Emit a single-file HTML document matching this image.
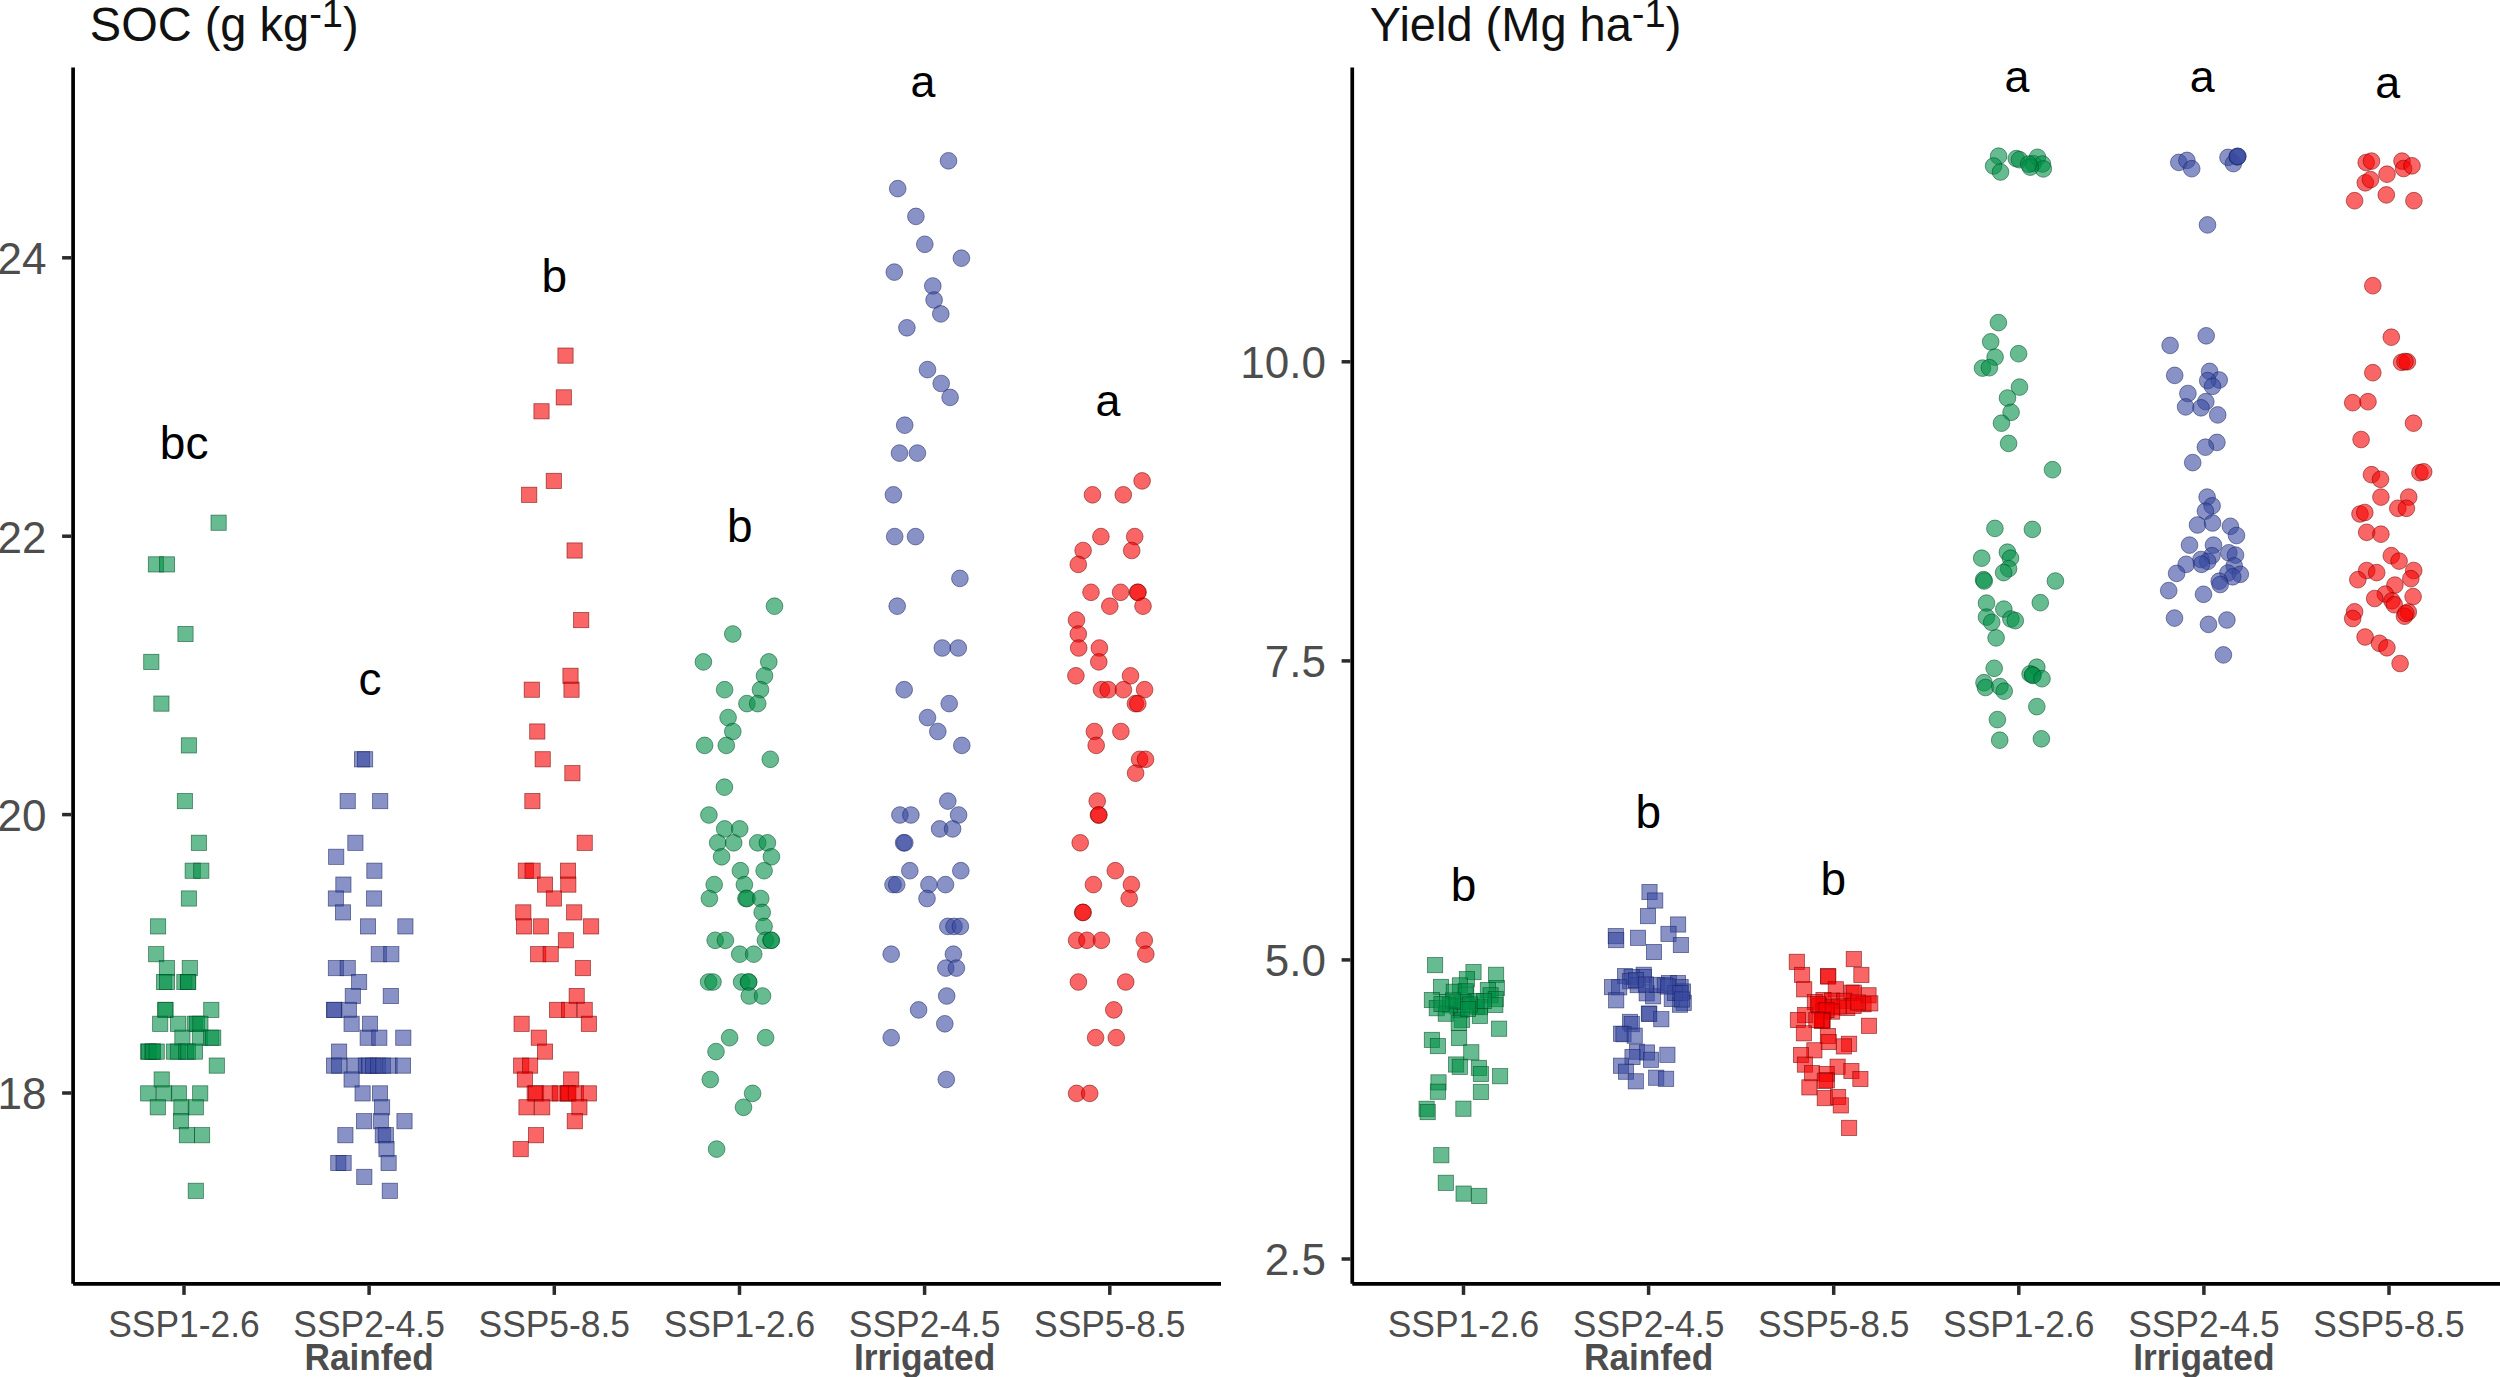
<!DOCTYPE html>
<html lang="en"><head><meta charset="utf-8"><title>SOC and Yield under SSP scenarios</title>
<style>html,body{margin:0;padding:0;background:#fff}body{width:2500px;height:1377px;overflow:hidden}svg{display:block}text{font-family:"Liberation Sans",Arial,sans-serif}.ax{stroke:#000;stroke-width:3.7;fill:none;stroke-linecap:butt}.tk{stroke:#2b2b2b;stroke-width:3.5;fill:none}.tl{fill:#4D4D4D;font-size:35.4px}.yl{fill:#4D4D4D;font-size:44px}.gl{fill:#4D4D4D;font-size:35.3px;font-weight:bold}.tt{fill:#111;font-size:47px}.lb{fill:#000;font-size:46px}.la{font-size:44.8px}.g{fill:#009046;stroke:#004a24}.b{fill:#384AA0;stroke:#1a2460}.r{fill:#F70000;stroke:#720000}.p{fill-opacity:0.6;stroke-opacity:0.65;stroke-width:0.8}</style></head><body>
<svg width="2500" height="1377" viewBox="0 0 2500 1377">
<rect width="2500" height="1377" fill="#fff"/>
<g class="p g"><rect x="211" y="515.1" width="15.2" height="15.2"/><rect x="148.3" y="556.8" width="15.2" height="15.2"/><rect x="159.4" y="556.8" width="15.2" height="15.2"/><rect x="177.9" y="626.4" width="15.2" height="15.2"/><rect x="143.7" y="654.3" width="15.2" height="15.2"/><rect x="153.8" y="696" width="15.2" height="15.2"/><rect x="181.3" y="737.8" width="15.2" height="15.2"/><rect x="177.3" y="793.5" width="15.2" height="15.2"/><rect x="191.3" y="835.2" width="15.2" height="15.2"/><rect x="185.1" y="863.1" width="15.2" height="15.2"/><rect x="193.7" y="863.1" width="15.2" height="15.2"/><rect x="181.3" y="890.9" width="15.2" height="15.2"/><rect x="150.5" y="918.8" width="15.2" height="15.2"/><rect x="148.6" y="946.6" width="15.2" height="15.2"/><rect x="159.3" y="960.5" width="15.2" height="15.2"/><rect x="182.2" y="960.5" width="15.2" height="15.2"/><rect x="156.5" y="974.4" width="15.2" height="15.2"/><rect x="159.4" y="974.4" width="15.2" height="15.2"/><rect x="176.8" y="974.4" width="15.2" height="15.2"/><rect x="180.3" y="974.4" width="15.2" height="15.2"/><rect x="180.6" y="974.4" width="15.2" height="15.2"/><rect x="157.8" y="1002.3" width="15.2" height="15.2"/><rect x="157.8" y="1002.3" width="15.2" height="15.2"/><rect x="203.7" y="1002.3" width="15.2" height="15.2"/><rect x="152.6" y="1016.2" width="15.2" height="15.2"/><rect x="170.5" y="1016.2" width="15.2" height="15.2"/><rect x="187.1" y="1016.2" width="15.2" height="15.2"/><rect x="189.3" y="1016.2" width="15.2" height="15.2"/><rect x="192.8" y="1016.2" width="15.2" height="15.2"/><rect x="174.8" y="1030.1" width="15.2" height="15.2"/><rect x="192.3" y="1030.1" width="15.2" height="15.2"/><rect x="203.6" y="1030.1" width="15.2" height="15.2"/><rect x="205.6" y="1030.1" width="15.2" height="15.2"/><rect x="140.5" y="1044" width="15.2" height="15.2"/><rect x="141.4" y="1044" width="15.2" height="15.2"/><rect x="145.1" y="1044" width="15.2" height="15.2"/><rect x="145.1" y="1044" width="15.2" height="15.2"/><rect x="149.1" y="1044" width="15.2" height="15.2"/><rect x="166.3" y="1044" width="15.2" height="15.2"/><rect x="170.3" y="1044" width="15.2" height="15.2"/><rect x="178.4" y="1044" width="15.2" height="15.2"/><rect x="180.3" y="1044" width="15.2" height="15.2"/><rect x="187.4" y="1044" width="15.2" height="15.2"/><rect x="209.2" y="1058" width="15.2" height="15.2"/><rect x="154.1" y="1071.9" width="15.2" height="15.2"/><rect x="140.6" y="1085.8" width="15.2" height="15.2"/><rect x="156.6" y="1085.8" width="15.2" height="15.2"/><rect x="171.3" y="1085.8" width="15.2" height="15.2"/><rect x="192.6" y="1085.8" width="15.2" height="15.2"/><rect x="150.2" y="1099.7" width="15.2" height="15.2"/><rect x="173.8" y="1099.7" width="15.2" height="15.2"/><rect x="188.2" y="1099.7" width="15.2" height="15.2"/><rect x="173.4" y="1113.6" width="15.2" height="15.2"/><rect x="179.3" y="1127.6" width="15.2" height="15.2"/><rect x="194.5" y="1127.6" width="15.2" height="15.2"/><rect x="188.2" y="1183.2" width="15.2" height="15.2"/></g>
<g class="p b"><rect x="354.4" y="751.7" width="15.2" height="15.2"/><rect x="357.5" y="751.7" width="15.2" height="15.2"/><rect x="340.1" y="793.5" width="15.2" height="15.2"/><rect x="372.6" y="793.5" width="15.2" height="15.2"/><rect x="347.8" y="835.2" width="15.2" height="15.2"/><rect x="328.6" y="849.2" width="15.2" height="15.2"/><rect x="366.8" y="863.1" width="15.2" height="15.2"/><rect x="335.8" y="877" width="15.2" height="15.2"/><rect x="328.3" y="890.9" width="15.2" height="15.2"/><rect x="366.5" y="890.9" width="15.2" height="15.2"/><rect x="335.4" y="904.8" width="15.2" height="15.2"/><rect x="360.4" y="918.8" width="15.2" height="15.2"/><rect x="397.8" y="918.8" width="15.2" height="15.2"/><rect x="371.2" y="946.6" width="15.2" height="15.2"/><rect x="383.7" y="946.6" width="15.2" height="15.2"/><rect x="328.3" y="960.5" width="15.2" height="15.2"/><rect x="340.1" y="960.5" width="15.2" height="15.2"/><rect x="351.5" y="974.4" width="15.2" height="15.2"/><rect x="345.2" y="988.4" width="15.2" height="15.2"/><rect x="383.2" y="988.4" width="15.2" height="15.2"/><rect x="326.4" y="1002.3" width="15.2" height="15.2"/><rect x="326.8" y="1002.3" width="15.2" height="15.2"/><rect x="341.3" y="1002.3" width="15.2" height="15.2"/><rect x="344" y="1016.2" width="15.2" height="15.2"/><rect x="362.4" y="1016.2" width="15.2" height="15.2"/><rect x="360.1" y="1030.1" width="15.2" height="15.2"/><rect x="371.7" y="1030.1" width="15.2" height="15.2"/><rect x="395.7" y="1030.1" width="15.2" height="15.2"/><rect x="331.5" y="1044" width="15.2" height="15.2"/><rect x="326.4" y="1058" width="15.2" height="15.2"/><rect x="331.6" y="1058" width="15.2" height="15.2"/><rect x="347.1" y="1058" width="15.2" height="15.2"/><rect x="358.3" y="1058" width="15.2" height="15.2"/><rect x="361.4" y="1058" width="15.2" height="15.2"/><rect x="365.4" y="1058" width="15.2" height="15.2"/><rect x="370.4" y="1058" width="15.2" height="15.2"/><rect x="375.4" y="1058" width="15.2" height="15.2"/><rect x="382" y="1058" width="15.2" height="15.2"/><rect x="395.4" y="1058" width="15.2" height="15.2"/><rect x="344" y="1071.9" width="15.2" height="15.2"/><rect x="355" y="1085.8" width="15.2" height="15.2"/><rect x="372.4" y="1085.8" width="15.2" height="15.2"/><rect x="374.5" y="1099.7" width="15.2" height="15.2"/><rect x="356.4" y="1113.6" width="15.2" height="15.2"/><rect x="373.2" y="1113.6" width="15.2" height="15.2"/><rect x="396.9" y="1113.6" width="15.2" height="15.2"/><rect x="337.8" y="1127.6" width="15.2" height="15.2"/><rect x="375.2" y="1127.6" width="15.2" height="15.2"/><rect x="378.2" y="1127.6" width="15.2" height="15.2"/><rect x="378.9" y="1141.5" width="15.2" height="15.2"/><rect x="330.7" y="1155.4" width="15.2" height="15.2"/><rect x="336" y="1155.4" width="15.2" height="15.2"/><rect x="381" y="1155.4" width="15.2" height="15.2"/><rect x="356.7" y="1169.3" width="15.2" height="15.2"/><rect x="382.2" y="1183.2" width="15.2" height="15.2"/></g>
<g class="p r"><rect x="557.9" y="348" width="15.2" height="15.2"/><rect x="556.2" y="389.8" width="15.2" height="15.2"/><rect x="533.9" y="403.7" width="15.2" height="15.2"/><rect x="546.2" y="473.3" width="15.2" height="15.2"/><rect x="521.6" y="487.2" width="15.2" height="15.2"/><rect x="567" y="542.9" width="15.2" height="15.2"/><rect x="573.6" y="612.5" width="15.2" height="15.2"/><rect x="562.9" y="668.2" width="15.2" height="15.2"/><rect x="524.2" y="682.1" width="15.2" height="15.2"/><rect x="563.9" y="682.1" width="15.2" height="15.2"/><rect x="529.7" y="723.9" width="15.2" height="15.2"/><rect x="535.1" y="751.7" width="15.2" height="15.2"/><rect x="564.8" y="765.6" width="15.2" height="15.2"/><rect x="524.8" y="793.5" width="15.2" height="15.2"/><rect x="577.1" y="835.2" width="15.2" height="15.2"/><rect x="518.2" y="863.1" width="15.2" height="15.2"/><rect x="525" y="863.1" width="15.2" height="15.2"/><rect x="560.4" y="863.1" width="15.2" height="15.2"/><rect x="537.4" y="877" width="15.2" height="15.2"/><rect x="560.7" y="877" width="15.2" height="15.2"/><rect x="546.3" y="890.9" width="15.2" height="15.2"/><rect x="515.7" y="904.8" width="15.2" height="15.2"/><rect x="566.6" y="904.8" width="15.2" height="15.2"/><rect x="516.4" y="918.8" width="15.2" height="15.2"/><rect x="533.3" y="918.8" width="15.2" height="15.2"/><rect x="583.5" y="918.8" width="15.2" height="15.2"/><rect x="558.3" y="932.7" width="15.2" height="15.2"/><rect x="530.6" y="946.6" width="15.2" height="15.2"/><rect x="543.1" y="946.6" width="15.2" height="15.2"/><rect x="575.3" y="960.5" width="15.2" height="15.2"/><rect x="569.1" y="988.4" width="15.2" height="15.2"/><rect x="549.4" y="1002.3" width="15.2" height="15.2"/><rect x="561.6" y="1002.3" width="15.2" height="15.2"/><rect x="577.1" y="1002.3" width="15.2" height="15.2"/><rect x="514" y="1016.2" width="15.2" height="15.2"/><rect x="581.3" y="1016.2" width="15.2" height="15.2"/><rect x="531.2" y="1030.1" width="15.2" height="15.2"/><rect x="537.4" y="1044" width="15.2" height="15.2"/><rect x="513.6" y="1058" width="15.2" height="15.2"/><rect x="522.5" y="1058" width="15.2" height="15.2"/><rect x="517.3" y="1071.9" width="15.2" height="15.2"/><rect x="563.6" y="1071.9" width="15.2" height="15.2"/><rect x="527.1" y="1085.8" width="15.2" height="15.2"/><rect x="528.5" y="1085.8" width="15.2" height="15.2"/><rect x="542.2" y="1085.8" width="15.2" height="15.2"/><rect x="552.2" y="1085.8" width="15.2" height="15.2"/><rect x="560.1" y="1085.8" width="15.2" height="15.2"/><rect x="560.8" y="1085.8" width="15.2" height="15.2"/><rect x="568.4" y="1085.8" width="15.2" height="15.2"/><rect x="581.3" y="1085.8" width="15.2" height="15.2"/><rect x="518.9" y="1099.7" width="15.2" height="15.2"/><rect x="534.6" y="1099.7" width="15.2" height="15.2"/><rect x="571.8" y="1099.7" width="15.2" height="15.2"/><rect x="567.2" y="1113.6" width="15.2" height="15.2"/><rect x="528.4" y="1127.6" width="15.2" height="15.2"/><rect x="513.1" y="1141.5" width="15.2" height="15.2"/></g>
<g class="p g"><circle cx="774.5" cy="606.2" r="8.35"/><circle cx="732.8" cy="634" r="8.35"/><circle cx="703.4" cy="661.9" r="8.35"/><circle cx="768.8" cy="661.9" r="8.35"/><circle cx="764.5" cy="675.8" r="8.35"/><circle cx="724.6" cy="689.7" r="8.35"/><circle cx="760.5" cy="689.7" r="8.35"/><circle cx="746.9" cy="703.6" r="8.35"/><circle cx="757.7" cy="703.6" r="8.35"/><circle cx="728.1" cy="717.6" r="8.35"/><circle cx="732.8" cy="731.5" r="8.35"/><circle cx="704.6" cy="745.4" r="8.35"/><circle cx="726.3" cy="745.4" r="8.35"/><circle cx="770.3" cy="759.3" r="8.35"/><circle cx="724.4" cy="787.2" r="8.35"/><circle cx="708.9" cy="815" r="8.35"/><circle cx="724.7" cy="828.9" r="8.35"/><circle cx="739.7" cy="828.9" r="8.35"/><circle cx="717.7" cy="842.8" r="8.35"/><circle cx="733.7" cy="842.8" r="8.35"/><circle cx="757.7" cy="842.8" r="8.35"/><circle cx="767.4" cy="842.8" r="8.35"/><circle cx="721.6" cy="856.8" r="8.35"/><circle cx="771.4" cy="856.8" r="8.35"/><circle cx="740.4" cy="870.7" r="8.35"/><circle cx="764.1" cy="870.7" r="8.35"/><circle cx="714.2" cy="884.6" r="8.35"/><circle cx="744.4" cy="884.6" r="8.35"/><circle cx="709.4" cy="898.5" r="8.35"/><circle cx="745.9" cy="898.5" r="8.35"/><circle cx="747.1" cy="898.5" r="8.35"/><circle cx="760.7" cy="898.5" r="8.35"/><circle cx="762.2" cy="912.4" r="8.35"/><circle cx="764.1" cy="926.4" r="8.35"/><circle cx="715.2" cy="940.3" r="8.35"/><circle cx="725.4" cy="940.3" r="8.35"/><circle cx="765.4" cy="940.3" r="8.35"/><circle cx="771.1" cy="940.3" r="8.35"/><circle cx="771.3" cy="940.3" r="8.35"/><circle cx="739.7" cy="954.2" r="8.35"/><circle cx="753.7" cy="954.2" r="8.35"/><circle cx="708.6" cy="982" r="8.35"/><circle cx="713" cy="982" r="8.35"/><circle cx="741.6" cy="982" r="8.35"/><circle cx="748.5" cy="982" r="8.35"/><circle cx="748.7" cy="982" r="8.35"/><circle cx="749.3" cy="996" r="8.35"/><circle cx="762.5" cy="996" r="8.35"/><circle cx="729.6" cy="1037.7" r="8.35"/><circle cx="765.6" cy="1037.7" r="8.35"/><circle cx="716" cy="1051.6" r="8.35"/><circle cx="710.3" cy="1079.5" r="8.35"/><circle cx="752.6" cy="1093.4" r="8.35"/><circle cx="743.5" cy="1107.3" r="8.35"/><circle cx="716.6" cy="1149.1" r="8.35"/></g>
<g class="p b"><circle cx="948.5" cy="160.8" r="8.35"/><circle cx="897.7" cy="188.6" r="8.35"/><circle cx="915.9" cy="216.4" r="8.35"/><circle cx="924.8" cy="244.3" r="8.35"/><circle cx="961.4" cy="258.2" r="8.35"/><circle cx="894.3" cy="272.1" r="8.35"/><circle cx="932.8" cy="286" r="8.35"/><circle cx="934.1" cy="300" r="8.35"/><circle cx="940.8" cy="313.9" r="8.35"/><circle cx="906.9" cy="327.8" r="8.35"/><circle cx="927.5" cy="369.6" r="8.35"/><circle cx="941.2" cy="383.5" r="8.35"/><circle cx="950.1" cy="397.4" r="8.35"/><circle cx="904.7" cy="425.2" r="8.35"/><circle cx="899.5" cy="453.1" r="8.35"/><circle cx="917.4" cy="453.1" r="8.35"/><circle cx="893.4" cy="494.8" r="8.35"/><circle cx="894.7" cy="536.6" r="8.35"/><circle cx="915.5" cy="536.6" r="8.35"/><circle cx="959.9" cy="578.4" r="8.35"/><circle cx="897.2" cy="606.2" r="8.35"/><circle cx="942.3" cy="648" r="8.35"/><circle cx="958.3" cy="648" r="8.35"/><circle cx="904.2" cy="689.7" r="8.35"/><circle cx="949.2" cy="703.6" r="8.35"/><circle cx="927.5" cy="717.6" r="8.35"/><circle cx="937.8" cy="731.5" r="8.35"/><circle cx="961.8" cy="745.4" r="8.35"/><circle cx="947.8" cy="801.1" r="8.35"/><circle cx="899.9" cy="815" r="8.35"/><circle cx="910.9" cy="815" r="8.35"/><circle cx="958.6" cy="815" r="8.35"/><circle cx="939.6" cy="828.9" r="8.35"/><circle cx="952.6" cy="828.9" r="8.35"/><circle cx="903.6" cy="842.8" r="8.35"/><circle cx="904.8" cy="842.8" r="8.35"/><circle cx="909.8" cy="870.7" r="8.35"/><circle cx="960.8" cy="870.7" r="8.35"/><circle cx="893" cy="884.6" r="8.35"/><circle cx="896.7" cy="884.6" r="8.35"/><circle cx="928.9" cy="884.6" r="8.35"/><circle cx="945.5" cy="884.6" r="8.35"/><circle cx="927" cy="898.5" r="8.35"/><circle cx="947.8" cy="926.4" r="8.35"/><circle cx="954" cy="926.4" r="8.35"/><circle cx="960.4" cy="926.4" r="8.35"/><circle cx="891.2" cy="954.2" r="8.35"/><circle cx="953.4" cy="954.2" r="8.35"/><circle cx="945.8" cy="968.1" r="8.35"/><circle cx="956.4" cy="968.1" r="8.35"/><circle cx="946.7" cy="996" r="8.35"/><circle cx="918.6" cy="1009.9" r="8.35"/><circle cx="944.8" cy="1023.8" r="8.35"/><circle cx="891.2" cy="1037.7" r="8.35"/><circle cx="946.3" cy="1079.5" r="8.35"/></g>
<g class="p r"><circle cx="1142.1" cy="480.9" r="8.35"/><circle cx="1092.5" cy="494.8" r="8.35"/><circle cx="1123.3" cy="494.8" r="8.35"/><circle cx="1100.9" cy="536.6" r="8.35"/><circle cx="1134.7" cy="536.6" r="8.35"/><circle cx="1083.1" cy="550.5" r="8.35"/><circle cx="1131.7" cy="550.5" r="8.35"/><circle cx="1078.3" cy="564.4" r="8.35"/><circle cx="1091" cy="592.3" r="8.35"/><circle cx="1120.6" cy="592.3" r="8.35"/><circle cx="1137.6" cy="592.3" r="8.35"/><circle cx="1138" cy="592.3" r="8.35"/><circle cx="1109.8" cy="606.2" r="8.35"/><circle cx="1143" cy="606.2" r="8.35"/><circle cx="1076.5" cy="620.1" r="8.35"/><circle cx="1078.3" cy="634" r="8.35"/><circle cx="1078.7" cy="648" r="8.35"/><circle cx="1099.4" cy="648" r="8.35"/><circle cx="1098.8" cy="661.9" r="8.35"/><circle cx="1075.9" cy="675.8" r="8.35"/><circle cx="1130.5" cy="675.8" r="8.35"/><circle cx="1101.5" cy="689.7" r="8.35"/><circle cx="1108.2" cy="689.7" r="8.35"/><circle cx="1123.4" cy="689.7" r="8.35"/><circle cx="1144.6" cy="689.7" r="8.35"/><circle cx="1135.4" cy="703.6" r="8.35"/><circle cx="1137.8" cy="703.6" r="8.35"/><circle cx="1094.4" cy="731.5" r="8.35"/><circle cx="1120.9" cy="731.5" r="8.35"/><circle cx="1096.2" cy="745.4" r="8.35"/><circle cx="1139.6" cy="759.3" r="8.35"/><circle cx="1145.5" cy="759.3" r="8.35"/><circle cx="1135.6" cy="773.2" r="8.35"/><circle cx="1097.2" cy="801.1" r="8.35"/><circle cx="1098.5" cy="815" r="8.35"/><circle cx="1098.9" cy="815" r="8.35"/><circle cx="1080.2" cy="842.8" r="8.35"/><circle cx="1115.3" cy="870.7" r="8.35"/><circle cx="1093.4" cy="884.6" r="8.35"/><circle cx="1131.4" cy="884.6" r="8.35"/><circle cx="1129.2" cy="898.5" r="8.35"/><circle cx="1082.7" cy="912.4" r="8.35"/><circle cx="1083.1" cy="912.4" r="8.35"/><circle cx="1076.6" cy="940.3" r="8.35"/><circle cx="1087" cy="940.3" r="8.35"/><circle cx="1101.4" cy="940.3" r="8.35"/><circle cx="1144.3" cy="940.3" r="8.35"/><circle cx="1145.8" cy="954.2" r="8.35"/><circle cx="1078.4" cy="982" r="8.35"/><circle cx="1125.7" cy="982" r="8.35"/><circle cx="1113.8" cy="1009.9" r="8.35"/><circle cx="1095.6" cy="1037.7" r="8.35"/><circle cx="1116.3" cy="1037.7" r="8.35"/><circle cx="1076.6" cy="1093.4" r="8.35"/><circle cx="1089.7" cy="1093.4" r="8.35"/></g>
<g class="p g"><rect x="1427.5" y="957.5" width="15.2" height="15.2"/><rect x="1465.9" y="964.5" width="15.2" height="15.2"/><rect x="1488.5" y="967.2" width="15.2" height="15.2"/><rect x="1459.3" y="971.6" width="15.2" height="15.2"/><rect x="1452.3" y="977.8" width="15.2" height="15.2"/><rect x="1433.4" y="979.3" width="15.2" height="15.2"/><rect x="1489.2" y="980.4" width="15.2" height="15.2"/><rect x="1480.3" y="982.5" width="15.2" height="15.2"/><rect x="1446.2" y="984.2" width="15.2" height="15.2"/><rect x="1458.6" y="987.7" width="15.2" height="15.2"/><rect x="1483" y="987.7" width="15.2" height="15.2"/><rect x="1458.1" y="983.7" width="15.2" height="15.2"/><rect x="1424.3" y="992.4" width="15.2" height="15.2"/><rect x="1429.2" y="1000.6" width="15.2" height="15.2"/><rect x="1439.5" y="994.6" width="15.2" height="15.2"/><rect x="1488.1" y="991.5" width="15.2" height="15.2"/><rect x="1487.7" y="997.3" width="15.2" height="15.2"/><rect x="1472.3" y="999.5" width="15.2" height="15.2"/><rect x="1469.4" y="999" width="15.2" height="15.2"/><rect x="1452.9" y="1002.5" width="15.2" height="15.2"/><rect x="1449.9" y="999" width="15.2" height="15.2"/><rect x="1442.4" y="997.7" width="15.2" height="15.2"/><rect x="1438.2" y="1006.1" width="15.2" height="15.2"/><rect x="1454.5" y="1012.2" width="15.2" height="15.2"/><rect x="1451.2" y="1015.3" width="15.2" height="15.2"/><rect x="1472.3" y="1008.3" width="15.2" height="15.2"/><rect x="1468.1" y="993.5" width="15.2" height="15.2"/><rect x="1455.8" y="994.4" width="15.2" height="15.2"/><rect x="1476.4" y="993.4" width="15.2" height="15.2"/><rect x="1462.4" y="996.9" width="15.2" height="15.2"/><rect x="1445.4" y="992.9" width="15.2" height="15.2"/><rect x="1433.9" y="996.4" width="15.2" height="15.2"/><rect x="1460.4" y="1001.4" width="15.2" height="15.2"/><rect x="1491.5" y="1021.1" width="15.2" height="15.2"/><rect x="1451.5" y="1030.4" width="15.2" height="15.2"/><rect x="1424.3" y="1032.3" width="15.2" height="15.2"/><rect x="1430.3" y="1038.5" width="15.2" height="15.2"/><rect x="1463.7" y="1044.7" width="15.2" height="15.2"/><rect x="1448.5" y="1056.9" width="15.2" height="15.2"/><rect x="1452.2" y="1059.2" width="15.2" height="15.2"/><rect x="1471.3" y="1060.3" width="15.2" height="15.2"/><rect x="1473.3" y="1066.4" width="15.2" height="15.2"/><rect x="1492.5" y="1068.6" width="15.2" height="15.2"/><rect x="1430.9" y="1074.8" width="15.2" height="15.2"/><rect x="1430.3" y="1084.1" width="15.2" height="15.2"/><rect x="1473.3" y="1084.3" width="15.2" height="15.2"/><rect x="1419" y="1101.2" width="15.2" height="15.2"/><rect x="1420.1" y="1104.5" width="15.2" height="15.2"/><rect x="1455.8" y="1101.1" width="15.2" height="15.2"/><rect x="1433.7" y="1147.6" width="15.2" height="15.2"/><rect x="1438.2" y="1175.2" width="15.2" height="15.2"/><rect x="1456" y="1186" width="15.2" height="15.2"/><rect x="1471.6" y="1188.3" width="15.2" height="15.2"/></g>
<g class="p b"><rect x="1641.9" y="884.4" width="15.2" height="15.2"/><rect x="1647.6" y="892.9" width="15.2" height="15.2"/><rect x="1640.4" y="908.5" width="15.2" height="15.2"/><rect x="1670.5" y="916.9" width="15.2" height="15.2"/><rect x="1660.9" y="926.3" width="15.2" height="15.2"/><rect x="1608.2" y="928.5" width="15.2" height="15.2"/><rect x="1608.6" y="932.5" width="15.2" height="15.2"/><rect x="1630.4" y="930.2" width="15.2" height="15.2"/><rect x="1673.3" y="937.4" width="15.2" height="15.2"/><rect x="1646.4" y="944.4" width="15.2" height="15.2"/><rect x="1636.1" y="967.2" width="15.2" height="15.2"/><rect x="1636.3" y="969.4" width="15.2" height="15.2"/><rect x="1617.4" y="968.5" width="15.2" height="15.2"/><rect x="1624" y="969.4" width="15.2" height="15.2"/><rect x="1622.4" y="973.6" width="15.2" height="15.2"/><rect x="1630.1" y="977.5" width="15.2" height="15.2"/><rect x="1604.4" y="979.5" width="15.2" height="15.2"/><rect x="1611.6" y="979.7" width="15.2" height="15.2"/><rect x="1639.1" y="985.7" width="15.2" height="15.2"/><rect x="1645.5" y="988.7" width="15.2" height="15.2"/><rect x="1649.3" y="977.3" width="15.2" height="15.2"/><rect x="1661.4" y="975.5" width="15.2" height="15.2"/><rect x="1670.4" y="975.5" width="15.2" height="15.2"/><rect x="1673" y="979.5" width="15.2" height="15.2"/><rect x="1675.4" y="983.9" width="15.2" height="15.2"/><rect x="1676.1" y="995.3" width="15.2" height="15.2"/><rect x="1672.4" y="997.1" width="15.2" height="15.2"/><rect x="1664.2" y="991.4" width="15.2" height="15.2"/><rect x="1608.6" y="992.7" width="15.2" height="15.2"/><rect x="1641.3" y="1005.9" width="15.2" height="15.2"/><rect x="1641.7" y="1006.4" width="15.2" height="15.2"/><rect x="1653.7" y="1011.6" width="15.2" height="15.2"/><rect x="1622.4" y="1014.3" width="15.2" height="15.2"/><rect x="1624.2" y="1016.5" width="15.2" height="15.2"/><rect x="1657.2" y="977.7" width="15.2" height="15.2"/><rect x="1667.4" y="985.4" width="15.2" height="15.2"/><rect x="1628.4" y="972.4" width="15.2" height="15.2"/><rect x="1638.4" y="976.9" width="15.2" height="15.2"/><rect x="1660.4" y="978.9" width="15.2" height="15.2"/><rect x="1672.9" y="985.4" width="15.2" height="15.2"/><rect x="1674.4" y="991.9" width="15.2" height="15.2"/><rect x="1613.4" y="1026.1" width="15.2" height="15.2"/><rect x="1615.9" y="1026.6" width="15.2" height="15.2"/><rect x="1627.1" y="1028.1" width="15.2" height="15.2"/><rect x="1629.4" y="1044.1" width="15.2" height="15.2"/><rect x="1639.4" y="1044.9" width="15.2" height="15.2"/><rect x="1659.8" y="1047.2" width="15.2" height="15.2"/><rect x="1624.9" y="1049.4" width="15.2" height="15.2"/><rect x="1643.4" y="1052.2" width="15.2" height="15.2"/><rect x="1613.4" y="1058.1" width="15.2" height="15.2"/><rect x="1618.4" y="1064.1" width="15.2" height="15.2"/><rect x="1628.2" y="1073.7" width="15.2" height="15.2"/><rect x="1648.6" y="1070.1" width="15.2" height="15.2"/><rect x="1658.5" y="1071.2" width="15.2" height="15.2"/></g>
<g class="p r"><rect x="1789.2" y="954.2" width="15.2" height="15.2"/><rect x="1846.2" y="951.5" width="15.2" height="15.2"/><rect x="1794.5" y="967.3" width="15.2" height="15.2"/><rect x="1820.4" y="968.6" width="15.2" height="15.2"/><rect x="1820.7" y="968.9" width="15.2" height="15.2"/><rect x="1853.8" y="967.3" width="15.2" height="15.2"/><rect x="1796.6" y="981.7" width="15.2" height="15.2"/><rect x="1828.2" y="981.7" width="15.2" height="15.2"/><rect x="1843.9" y="985.1" width="15.2" height="15.2"/><rect x="1846.2" y="985.1" width="15.2" height="15.2"/><rect x="1860.9" y="987.7" width="15.2" height="15.2"/><rect x="1815.9" y="992.4" width="15.2" height="15.2"/><rect x="1807.3" y="994.5" width="15.2" height="15.2"/><rect x="1824.5" y="993" width="15.2" height="15.2"/><rect x="1836.6" y="993.2" width="15.2" height="15.2"/><rect x="1811.5" y="998.2" width="15.2" height="15.2"/><rect x="1824.5" y="999.8" width="15.2" height="15.2"/><rect x="1855.9" y="996.6" width="15.2" height="15.2"/><rect x="1862.7" y="995.8" width="15.2" height="15.2"/><rect x="1815.9" y="1003.7" width="15.2" height="15.2"/><rect x="1797.6" y="1007.5" width="15.2" height="15.2"/><rect x="1839.7" y="1000.3" width="15.2" height="15.2"/><rect x="1831.3" y="998.8" width="15.2" height="15.2"/><rect x="1846" y="998.3" width="15.2" height="15.2"/><rect x="1824.5" y="1004" width="15.2" height="15.2"/><rect x="1810.4" y="996.4" width="15.2" height="15.2"/><rect x="1818.9" y="1002.4" width="15.2" height="15.2"/><rect x="1850.4" y="994.9" width="15.2" height="15.2"/><rect x="1790.3" y="1012.4" width="15.2" height="15.2"/><rect x="1814.6" y="1012.7" width="15.2" height="15.2"/><rect x="1815" y="1012.2" width="15.2" height="15.2"/><rect x="1814.2" y="1013.4" width="15.2" height="15.2"/><rect x="1808.8" y="1012.4" width="15.2" height="15.2"/><rect x="1796.3" y="1025.7" width="15.2" height="15.2"/><rect x="1820.3" y="1028.4" width="15.2" height="15.2"/><rect x="1821.1" y="1034.4" width="15.2" height="15.2"/><rect x="1861.4" y="1018.2" width="15.2" height="15.2"/><rect x="1841.5" y="1036.2" width="15.2" height="15.2"/><rect x="1836.3" y="1038.8" width="15.2" height="15.2"/><rect x="1806.8" y="1042.7" width="15.2" height="15.2"/><rect x="1793.4" y="1047.4" width="15.2" height="15.2"/><rect x="1797.3" y="1057" width="15.2" height="15.2"/><rect x="1830" y="1059.1" width="15.2" height="15.2"/><rect x="1843.8" y="1063.4" width="15.2" height="15.2"/><rect x="1804.4" y="1065.6" width="15.2" height="15.2"/><rect x="1819" y="1066.4" width="15.2" height="15.2"/><rect x="1819.2" y="1072.7" width="15.2" height="15.2"/><rect x="1817.2" y="1073.2" width="15.2" height="15.2"/><rect x="1852.8" y="1071.4" width="15.2" height="15.2"/><rect x="1801.8" y="1079.8" width="15.2" height="15.2"/><rect x="1817.2" y="1090.5" width="15.2" height="15.2"/><rect x="1830.5" y="1089.4" width="15.2" height="15.2"/><rect x="1833.2" y="1097.8" width="15.2" height="15.2"/><rect x="1841.5" y="1120.3" width="15.2" height="15.2"/></g>
<g class="p g"><circle cx="1998.6" cy="156.2" r="8.35"/><circle cx="1993.6" cy="166" r="8.35"/><circle cx="2000.5" cy="172" r="8.35"/><circle cx="2016.3" cy="158.6" r="8.35"/><circle cx="2019.5" cy="159.7" r="8.35"/><circle cx="2033.2" cy="163.5" r="8.35"/><circle cx="2037.5" cy="157.3" r="8.35"/><circle cx="2042.4" cy="164" r="8.35"/><circle cx="2043.3" cy="168.9" r="8.35"/><circle cx="2030.2" cy="167.1" r="8.35"/><circle cx="2028.7" cy="164.1" r="8.35"/><circle cx="1998.4" cy="322.6" r="8.35"/><circle cx="1990.7" cy="341.8" r="8.35"/><circle cx="2018.6" cy="353.7" r="8.35"/><circle cx="1995.1" cy="357.1" r="8.35"/><circle cx="1982.5" cy="368.1" r="8.35"/><circle cx="1989.4" cy="367.7" r="8.35"/><circle cx="2019.5" cy="387.1" r="8.35"/><circle cx="2007.5" cy="398" r="8.35"/><circle cx="2011.1" cy="412.3" r="8.35"/><circle cx="2001.5" cy="423.2" r="8.35"/><circle cx="2008.6" cy="443.4" r="8.35"/><circle cx="2052.5" cy="469.7" r="8.35"/><circle cx="1994.9" cy="528.4" r="8.35"/><circle cx="2032.4" cy="529.4" r="8.35"/><circle cx="2007.4" cy="552.2" r="8.35"/><circle cx="2010.5" cy="558.2" r="8.35"/><circle cx="1981.7" cy="558.2" r="8.35"/><circle cx="2008.6" cy="568.7" r="8.35"/><circle cx="2003.6" cy="572.6" r="8.35"/><circle cx="1983.6" cy="579.7" r="8.35"/><circle cx="1984.2" cy="581" r="8.35"/><circle cx="2055.4" cy="581" r="8.35"/><circle cx="1986.5" cy="603.1" r="8.35"/><circle cx="2040.3" cy="602.7" r="8.35"/><circle cx="2003.8" cy="609.1" r="8.35"/><circle cx="1986.5" cy="617.1" r="8.35"/><circle cx="1991.7" cy="622.3" r="8.35"/><circle cx="2010.9" cy="619" r="8.35"/><circle cx="2015.3" cy="620.6" r="8.35"/><circle cx="1996.1" cy="637.9" r="8.35"/><circle cx="1994.2" cy="668.3" r="8.35"/><circle cx="2036.8" cy="667.2" r="8.35"/><circle cx="2030.1" cy="673.9" r="8.35"/><circle cx="2033" cy="675.4" r="8.35"/><circle cx="2032.6" cy="674.9" r="8.35"/><circle cx="2042" cy="678.7" r="8.35"/><circle cx="1984" cy="682.7" r="8.35"/><circle cx="1985.5" cy="687.5" r="8.35"/><circle cx="1999.9" cy="686.6" r="8.35"/><circle cx="2004.2" cy="691.2" r="8.35"/><circle cx="2036.8" cy="706.6" r="8.35"/><circle cx="1997.4" cy="719.6" r="8.35"/><circle cx="1999.7" cy="740.2" r="8.35"/><circle cx="2041.4" cy="738.8" r="8.35"/></g>
<g class="p b"><circle cx="2178.8" cy="162.4" r="8.35"/><circle cx="2186.9" cy="160.4" r="8.35"/><circle cx="2191.7" cy="168.7" r="8.35"/><circle cx="2228" cy="157.4" r="8.35"/><circle cx="2233.4" cy="163.6" r="8.35"/><circle cx="2237.5" cy="156.5" r="8.35"/><circle cx="2237.1" cy="156.9" r="8.35"/><circle cx="2237.9" cy="156.3" r="8.35"/><circle cx="2207.5" cy="224.9" r="8.35"/><circle cx="2206.2" cy="335.8" r="8.35"/><circle cx="2170.1" cy="345.4" r="8.35"/><circle cx="2174.7" cy="375.4" r="8.35"/><circle cx="2209.6" cy="371.4" r="8.35"/><circle cx="2219.2" cy="380" r="8.35"/><circle cx="2207.7" cy="380.6" r="8.35"/><circle cx="2212.5" cy="386.3" r="8.35"/><circle cx="2187.9" cy="393.5" r="8.35"/><circle cx="2205.8" cy="401.7" r="8.35"/><circle cx="2185.6" cy="406.9" r="8.35"/><circle cx="2201" cy="407.8" r="8.35"/><circle cx="2217.7" cy="414.9" r="8.35"/><circle cx="2216.9" cy="442.4" r="8.35"/><circle cx="2205.4" cy="447.2" r="8.35"/><circle cx="2192.7" cy="462.6" r="8.35"/><circle cx="2207.1" cy="497.1" r="8.35"/><circle cx="2212.1" cy="505.8" r="8.35"/><circle cx="2205.4" cy="511.1" r="8.35"/><circle cx="2197.5" cy="525" r="8.35"/><circle cx="2212.5" cy="523" r="8.35"/><circle cx="2230.4" cy="526.3" r="8.35"/><circle cx="2236.5" cy="535.5" r="8.35"/><circle cx="2189.5" cy="545.1" r="8.35"/><circle cx="2213.5" cy="545.1" r="8.35"/><circle cx="2228.8" cy="552.8" r="8.35"/><circle cx="2235.5" cy="555.1" r="8.35"/><circle cx="2211.9" cy="555.7" r="8.35"/><circle cx="2201" cy="559.5" r="8.35"/><circle cx="2207.7" cy="561.4" r="8.35"/><circle cx="2201.5" cy="564.3" r="8.35"/><circle cx="2186.2" cy="564.3" r="8.35"/><circle cx="2234.2" cy="565.9" r="8.35"/><circle cx="2176.6" cy="573.4" r="8.35"/><circle cx="2227.9" cy="573" r="8.35"/><circle cx="2240.3" cy="574.3" r="8.35"/><circle cx="2232.7" cy="576.8" r="8.35"/><circle cx="2219.2" cy="581.2" r="8.35"/><circle cx="2220.2" cy="584.5" r="8.35"/><circle cx="2168.7" cy="590.6" r="8.35"/><circle cx="2203.5" cy="594.3" r="8.35"/><circle cx="2174.5" cy="618.1" r="8.35"/><circle cx="2226.9" cy="620" r="8.35"/><circle cx="2208.5" cy="624.4" r="8.35"/><circle cx="2223.4" cy="654.9" r="8.35"/></g>
<g class="p r"><circle cx="2366.2" cy="162.5" r="8.35"/><circle cx="2371.5" cy="161.1" r="8.35"/><circle cx="2402" cy="161.1" r="8.35"/><circle cx="2403.6" cy="168.5" r="8.35"/><circle cx="2412" cy="165.8" r="8.35"/><circle cx="2387" cy="174.2" r="8.35"/><circle cx="2365.3" cy="182.8" r="8.35"/><circle cx="2370.5" cy="179.6" r="8.35"/><circle cx="2354.6" cy="200.7" r="8.35"/><circle cx="2386.3" cy="194.9" r="8.35"/><circle cx="2413.9" cy="200.7" r="8.35"/><circle cx="2372.8" cy="285.7" r="8.35"/><circle cx="2391.3" cy="337.2" r="8.35"/><circle cx="2401.6" cy="362.3" r="8.35"/><circle cx="2407.4" cy="361.8" r="8.35"/><circle cx="2405" cy="361.5" r="8.35"/><circle cx="2372.8" cy="372.7" r="8.35"/><circle cx="2352.7" cy="402.7" r="8.35"/><circle cx="2368" cy="401.7" r="8.35"/><circle cx="2413.5" cy="423.2" r="8.35"/><circle cx="2361.1" cy="439.5" r="8.35"/><circle cx="2371.5" cy="474.7" r="8.35"/><circle cx="2380.5" cy="479.3" r="8.35"/><circle cx="2419.9" cy="472.7" r="8.35"/><circle cx="2423.7" cy="471.8" r="8.35"/><circle cx="2380.9" cy="497.1" r="8.35"/><circle cx="2408.7" cy="497.1" r="8.35"/><circle cx="2397.8" cy="508.3" r="8.35"/><circle cx="2406.4" cy="508.3" r="8.35"/><circle cx="2360" cy="514" r="8.35"/><circle cx="2364.8" cy="512.5" r="8.35"/><circle cx="2366.7" cy="532.3" r="8.35"/><circle cx="2380.9" cy="534.2" r="8.35"/><circle cx="2391.3" cy="555.7" r="8.35"/><circle cx="2399.1" cy="561.1" r="8.35"/><circle cx="2366.7" cy="570.5" r="8.35"/><circle cx="2376.7" cy="572.6" r="8.35"/><circle cx="2413.7" cy="570.5" r="8.35"/><circle cx="2357.8" cy="579.7" r="8.35"/><circle cx="2410.8" cy="578.7" r="8.35"/><circle cx="2394.9" cy="585.1" r="8.35"/><circle cx="2385.3" cy="594.1" r="8.35"/><circle cx="2374.7" cy="598.5" r="8.35"/><circle cx="2413.1" cy="596.6" r="8.35"/><circle cx="2392" cy="600.8" r="8.35"/><circle cx="2394.3" cy="604.7" r="8.35"/><circle cx="2354.6" cy="611.8" r="8.35"/><circle cx="2352.7" cy="618.5" r="8.35"/><circle cx="2408.3" cy="612" r="8.35"/><circle cx="2404.5" cy="616.2" r="8.35"/><circle cx="2405.8" cy="613.3" r="8.35"/><circle cx="2365.1" cy="637" r="8.35"/><circle cx="2379.5" cy="643.3" r="8.35"/><circle cx="2386.9" cy="647.8" r="8.35"/><circle cx="2400.1" cy="663.5" r="8.35"/></g>
<path class="ax" d="M73.1 67.5 V1283.8 M73.1 1283.8 H1221"/>
<path class="ax" d="M1352.25 67.5 V1283.8 M1352.25 1283.8 H2500"/>
<path class="tk" d="M62.1 1093 H71.39999999999999"/>
<text class="yl" transform="translate(46.4 1109.4) scale(1 1.02)" text-anchor="end">18</text>
<path class="tk" d="M62.1 814.6 H71.39999999999999"/>
<text class="yl" transform="translate(46.4 831) scale(1 1.02)" text-anchor="end">20</text>
<path class="tk" d="M62.1 536.2 H71.39999999999999"/>
<text class="yl" transform="translate(46.4 552.6) scale(1 1.02)" text-anchor="end">22</text>
<path class="tk" d="M62.1 257.8 H71.39999999999999"/>
<text class="yl" transform="translate(46.4 274.2) scale(1 1.02)" text-anchor="end">24</text>
<path class="tk" d="M1341.6 1259 H1350.55"/>
<text class="yl" transform="translate(1326 1275.4) scale(1 1.02)" text-anchor="end">2.5</text>
<path class="tk" d="M1341.6 959.9 H1350.55"/>
<text class="yl" transform="translate(1326 976.3) scale(1 1.02)" text-anchor="end">5.0</text>
<path class="tk" d="M1341.6 660.9 H1350.55"/>
<text class="yl" transform="translate(1326 677.2) scale(1 1.02)" text-anchor="end">7.5</text>
<path class="tk" d="M1341.6 361.8 H1350.55"/>
<text class="yl" transform="translate(1326 378.2) scale(1 1.02)" text-anchor="end">10.0</text>
<path class="tk" d="M184 1285.6 V1294.9"/>
<text class="tl" transform="translate(184 1336.6) scale(1 1.04)" text-anchor="middle">SSP1-2.6</text>
<path class="tk" d="M369.1 1285.6 V1294.9"/>
<text class="tl" transform="translate(369.1 1336.6) scale(1 1.04)" text-anchor="middle">SSP2-4.5</text>
<path class="tk" d="M554.3 1285.6 V1294.9"/>
<text class="tl" transform="translate(554.3 1336.6) scale(1 1.04)" text-anchor="middle">SSP5-8.5</text>
<path class="tk" d="M739.5 1285.6 V1294.9"/>
<text class="tl" transform="translate(739.5 1336.6) scale(1 1.04)" text-anchor="middle">SSP1-2.6</text>
<path class="tk" d="M924.6 1285.6 V1294.9"/>
<text class="tl" transform="translate(924.6 1336.6) scale(1 1.04)" text-anchor="middle">SSP2-4.5</text>
<path class="tk" d="M1109.8 1285.6 V1294.9"/>
<text class="tl" transform="translate(1109.8 1336.6) scale(1 1.04)" text-anchor="middle">SSP5-8.5</text>
<text class="gl" transform="translate(369.1 1369.7) scale(1 1.04)" text-anchor="middle">Rainfed</text>
<text class="gl" transform="translate(924.6 1369.7) scale(1 1.04)" text-anchor="middle">Irrigated</text>
<path class="tk" d="M1463.5 1285.6 V1294.9"/>
<text class="tl" transform="translate(1463.5 1336.6) scale(1 1.04)" text-anchor="middle">SSP1-2.6</text>
<path class="tk" d="M1648.6 1285.6 V1294.9"/>
<text class="tl" transform="translate(1648.6 1336.6) scale(1 1.04)" text-anchor="middle">SSP2-4.5</text>
<path class="tk" d="M1833.7 1285.6 V1294.9"/>
<text class="tl" transform="translate(1833.7 1336.6) scale(1 1.04)" text-anchor="middle">SSP5-8.5</text>
<path class="tk" d="M2018.8 1285.6 V1294.9"/>
<text class="tl" transform="translate(2018.8 1336.6) scale(1 1.04)" text-anchor="middle">SSP1-2.6</text>
<path class="tk" d="M2203.9 1285.6 V1294.9"/>
<text class="tl" transform="translate(2203.9 1336.6) scale(1 1.04)" text-anchor="middle">SSP2-4.5</text>
<path class="tk" d="M2389 1285.6 V1294.9"/>
<text class="tl" transform="translate(2389 1336.6) scale(1 1.04)" text-anchor="middle">SSP5-8.5</text>
<text class="gl" transform="translate(1648.6 1369.7) scale(1 1.04)" text-anchor="middle">Rainfed</text>
<text class="gl" transform="translate(2203.9 1369.7) scale(1 1.04)" text-anchor="middle">Irrigated</text>
<text class="tt" transform="translate(89.8 40.8) scale(1 1.04)">SOC (g kg<tspan dy="-13.3" font-size="38">-1</tspan><tspan dy="13.3">)</tspan></text>
<text class="tt" transform="translate(1369.8 40.8) scale(1 1.04)">Yield (Mg ha<tspan dy="-13.3" font-size="38">-1</tspan><tspan dy="13.3">)</tspan></text>
<text class="lb" x="184.1" y="458.5" text-anchor="middle">bc</text>
<text class="lb" x="370" y="695" text-anchor="middle">c</text>
<text class="lb" x="554.3" y="291.5" text-anchor="middle">b</text>
<text class="lb" x="739.8" y="542.1" text-anchor="middle">b</text>
<text class="lb la" x="923" y="96.8" text-anchor="middle">a</text>
<text class="lb la" x="1108" y="416.3" text-anchor="middle">a</text>
<text class="lb" x="1463.6" y="901.1" text-anchor="middle">b</text>
<text class="lb" x="1648.3" y="828" text-anchor="middle">b</text>
<text class="lb" x="1833.3" y="895" text-anchor="middle">b</text>
<text class="lb la" x="2017" y="92.3" text-anchor="middle">a</text>
<text class="lb la" x="2202.2" y="91.8" text-anchor="middle">a</text>
<text class="lb la" x="2387.8" y="97.6" text-anchor="middle">a</text>
</svg></body></html>
